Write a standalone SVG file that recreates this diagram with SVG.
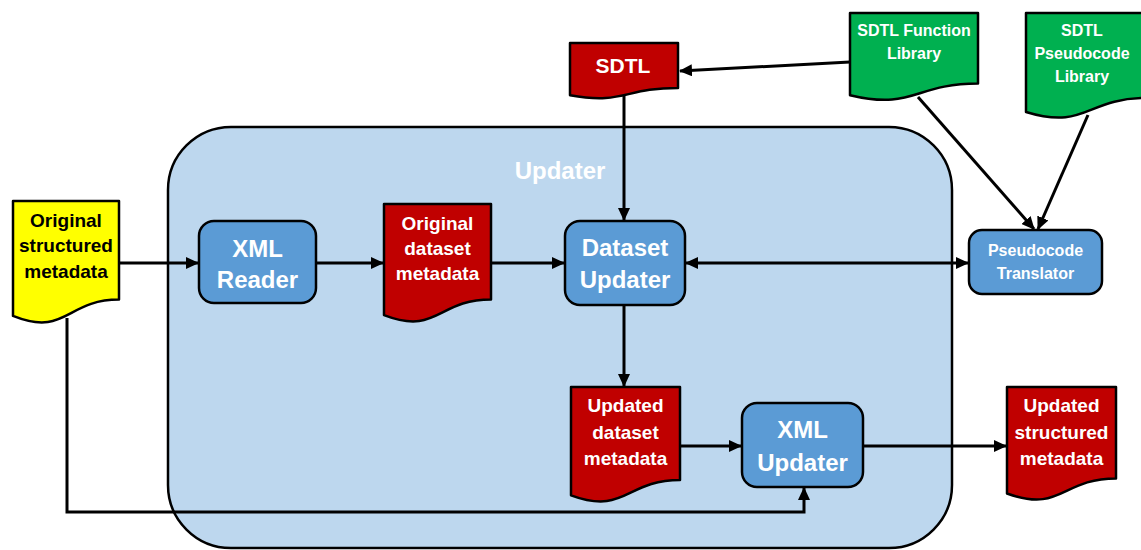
<svg xmlns="http://www.w3.org/2000/svg" width="1141" height="550" viewBox="0 0 1141 550">
<style>
.doc{stroke:#000;stroke-width:2.5;stroke-linejoin:round}
.red{fill:#c00000}
.green{fill:#00b050}
.yellow{fill:#ffff00}
.box{fill:#5b9bd5;stroke:#000;stroke-width:2.5}
.t{font-family:"Liberation Sans",Arial,sans-serif;font-weight:bold;text-anchor:middle;dominant-baseline:central;fill:#fff}
.dt{font-size:19px}
.bt{font-size:24px}
.gt{font-size:16px}
.k{fill:#000}
.c{fill:none;stroke:#000;stroke-width:3}
</style>
<defs>
<marker id="ah" markerUnits="userSpaceOnUse" markerWidth="13" markerHeight="12" refX="12" refY="6" orient="auto-start-reverse" viewBox="0 0 13 12">
<path d="M0,0 L13,6 L0,12 z" fill="#000"/>
</marker>
</defs>
<rect width="1141" height="550" fill="#fff"/>
<g id="updater-container">
<rect x="168" y="127" width="784" height="421" rx="63" ry="63" fill="#bdd7ee" stroke="#000" stroke-width="2.5"/>
<text class="t" x="560" y="170" font-size="24" fill="#f7fbff">Updater</text>
</g>
<g id="connectors">
<path class="c" d="M119 263 H198" marker-end="url(#ah)"/>
<path class="c" d="M316 263 H383" marker-end="url(#ah)"/>
<path class="c" d="M491 263 H564" marker-end="url(#ah)"/>
<path class="c" d="M624 96 V220" marker-end="url(#ah)"/>
<path class="c" d="M850 62 L680 71" marker-end="url(#ah)"/>
<path class="c" d="M686 263 H968" marker-start="url(#ah)" marker-end="url(#ah)"/>
<path class="c" d="M918 97 L1034 229" marker-end="url(#ah)"/>
<path class="c" d="M1088 115 L1038 229" marker-end="url(#ah)"/>
<path class="c" d="M624 305 V386" marker-end="url(#ah)"/>
<path class="c" d="M680 446 H741" marker-end="url(#ah)"/>
<path class="c" d="M863 446 H1006" marker-end="url(#ah)"/>
<path class="c" d="M67 318 V512 H804 V488" marker-end="url(#ah)"/>
</g>
<g id="original-structured-metadata">
<path class="doc yellow" d="M13 201 H119 V299.6 C66 299.6 66 337.2 13 315.9 Z"/>
<text class="t dt k" x="66" y="220">Original</text>
<text class="t dt k" x="66" y="245">structured</text>
<text class="t dt k" x="66" y="271">metadata</text>
</g>
<g id="xml-reader">
<rect class="box" x="199" y="221" width="117" height="82" rx="15"/>
<text class="t bt" x="257.5" y="248">XML</text>
<text class="t bt" x="257.5" y="279">Reader</text>
</g>
<g id="original-dataset-metadata">
<path class="doc red" d="M384 204 H491 V299.4 C437.5 299.4 437.5 335.7 384 315.1 Z"/>
<text class="t dt" x="437.5" y="223">Original</text>
<text class="t dt" x="437.5" y="248">dataset</text>
<text class="t dt" x="437.5" y="273">metadata</text>
</g>
<g id="dataset-updater">
<rect class="box" x="565" y="221" width="120" height="84" rx="15"/>
<text class="t bt" x="625" y="247">Dataset</text>
<text class="t bt" x="625" y="279">Updater</text>
</g>
<g id="sdtl">
<path class="doc red" d="M570 43 H678 V87.9 C624 87.9 624 105 570 95.3 Z"/>
<text class="t" x="623" y="65" font-size="21">SDTL</text>
</g>
<g id="sdtl-function-library">
<path class="doc green" d="M850 13 H978 V83.6 C914 83.6 914 110.4 850 95.2 Z"/>
<text class="t gt" x="914" y="30">SDTL Function</text>
<text class="t gt" x="914" y="53">Library</text>
</g>
<g id="sdtl-pseudocode-library">
<path class="doc green" d="M1026 13 H1146 V98 C1086 98 1086 130.3 1026 112 Z"/>
<text class="t gt" x="1082" y="30">SDTL</text>
<text class="t gt" x="1082" y="53">Pseudocode</text>
<text class="t gt" x="1082" y="76">Library</text>
</g>
<g id="pseudocode-translator">
<rect class="box" x="969" y="230" width="133" height="64" rx="13"/>
<text class="t gt" x="1035.5" y="250">Pseudocode</text>
<text class="t gt" x="1035.5" y="273">Translator</text>
</g>
<g id="updated-dataset-metadata">
<path class="doc red" d="M571 387 H680 V480 C625.5 480 625.5 515.4 571 495.3 Z"/>
<text class="t dt" x="625.5" y="405">Updated</text>
<text class="t dt" x="625.5" y="432">dataset</text>
<text class="t dt" x="625.5" y="458">metadata</text>
</g>
<g id="xml-updater">
<rect class="box" x="742" y="403" width="121" height="84" rx="15"/>
<text class="t bt" x="802.5" y="429">XML</text>
<text class="t bt" x="802.5" y="462">Updater</text>
</g>
<g id="updated-structured-metadata">
<path class="doc red" d="M1007 387 H1116 V478.4 C1061.5 478.4 1061.5 513.2 1007 493.5 Z"/>
<text class="t dt" x="1061.5" y="405">Updated</text>
<text class="t dt" x="1061.5" y="432">structured</text>
<text class="t dt" x="1061.5" y="458">metadata</text>
</g>
</svg>
